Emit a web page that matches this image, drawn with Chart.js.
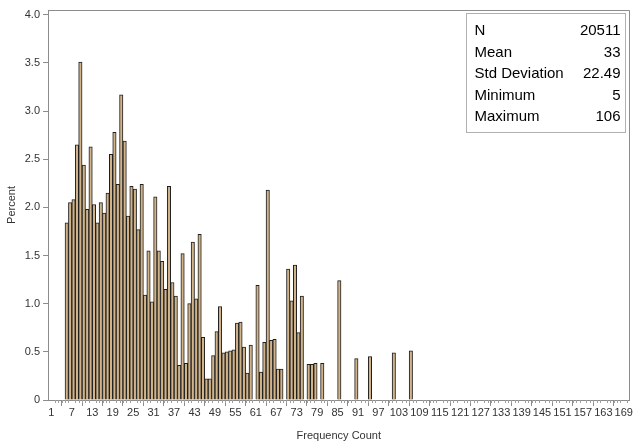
<!DOCTYPE html>
<html>
<head>
<meta charset="utf-8">
<script src="https://cdn.jsdelivr.net/npm/chart.js@4"></script>
<style>
  html, body { margin: 0; padding: 0; background: #fff; }
  #wrap { width: 633px; height: 443px; }
</style>
</head>
<body>
<div id="wrap"><canvas id="histo"></canvas></div>
<script>
// frequency count bins that have observations
const freqCount = [5, 6, 7, 8, 9, 10, 11, 12, 13, 14, 15, 16, 17, 18, 19, 20, 21, 22, 23, 24,
  25, 26, 27, 28, 29, 30, 31, 32, 33, 34, 35, 36, 37, 38, 39, 40, 41, 42, 43, 44,
  45, 46, 47, 48, 49, 50, 51, 52, 53, 54, 55, 56, 57, 58, 59, 61, 62, 63, 64, 65,
  66, 67, 68, 70, 71, 72, 73, 74, 76, 77, 78, 80, 85, 90, 94, 101, 106];
// percent of observations in each bin
const percent = [1.84, 2.05, 2.08, 2.65, 3.51, 2.44, 1.98, 2.63, 2.03, 1.84, 2.05, 1.94, 2.15, 2.55, 2.78, 2.24, 3.17, 2.69, 1.91, 2.22,
  2.19, 1.77, 2.24, 1.09, 1.55, 1.02, 2.11, 1.55, 1.44, 1.15, 2.22, 1.22, 1.08, 0.36, 1.52, 0.38, 1.00, 1.64, 1.05, 1.72,
  0.65, 0.22, 0.22, 0.46, 0.71, 0.97, 0.49, 0.50, 0.51, 0.52, 0.80, 0.81, 0.55, 0.28, 0.57, 1.19, 0.29, 0.60, 2.18, 0.62,
  0.63, 0.32, 0.32, 1.36, 1.03, 1.40, 0.70, 1.08, 0.37, 0.37, 0.38, 0.38, 1.24, 0.43, 0.45, 0.49, 0.51];

const xTickLabels = [1, 7, 13, 19, 25, 31, 37, 43, 49, 55, 61, 67, 73, 79, 85, 91, 97, 103, 109,
  115, 121, 127, 133, 139, 145, 151, 157, 163, 169];
const yTickValues = [0, 0.5, 1.0, 1.5, 2.0, 2.5, 3.0, 3.5, 4.0];

const statNames = ['N', 'Mean', 'Std Deviation', 'Minimum', 'Maximum'];
const statValues = ['20511', '33', '22.49', '5', '106'];

const FONT = '"Liberation Sans", Arial, sans-serif';
const AXIS_GRAY = '#8c8c8c';

// minor ticks, plot frame and the summary inset
const extras = {
  id: 'extras',
  afterDraw(chart) {
    const { ctx, chartArea: a, scales: { x } } = chart;
    ctx.save();
    // minor ticks on x
    ctx.strokeStyle = '#a0a0a0';
    ctx.lineWidth = 1;
    ctx.beginPath();
    for (let v = 1; v <= 170; v++) {
      if (xTickLabels.includes(v)) continue;
      const px = Math.round(x.getPixelForValue(v)) + 0.5;
      ctx.moveTo(px, a.bottom);
      ctx.lineTo(px, a.bottom + 3);
    }
    ctx.stroke();
    // frame top / right
    ctx.strokeStyle = AXIS_GRAY;
    ctx.beginPath();
    ctx.moveTo(Math.round(a.left) + 0.5, Math.round(a.top) + 0.5);
    ctx.lineTo(Math.round(a.right) - 0.5, Math.round(a.top) + 0.5);
    ctx.lineTo(Math.round(a.right) - 0.5, Math.round(a.bottom) + 0.5);
    ctx.stroke();

    // inset table
    const bw = 159, bh = 119;
    const bx = Math.round(a.right - 5 - bw) + 0.5;
    const by = Math.round(a.top + 3) + 0.5;
    ctx.fillStyle = '#fff';
    ctx.fillRect(bx, by, bw, bh);
    ctx.strokeStyle = '#b0b0b0';
    ctx.strokeRect(bx, by, bw, bh);
    ctx.font = '15px ' + FONT;
    ctx.fillStyle = '#000';
    ctx.textBaseline = 'middle';
    statNames.forEach((name, i) => {
      const ty = by + 17.5 + i * 21.5;
      ctx.textAlign = 'left';
      ctx.fillText(name, bx + 8, ty);
      ctx.textAlign = 'right';
      ctx.fillText(statValues[i], bx + bw - 5, ty);
    });
    ctx.restore();
  }
};

new Chart(document.getElementById('histo'), {
  type: 'bar',
  data: {
    datasets: [{
      // each bar covers the bin [count, count + 1)
      data: freqCount.map((c, i) => ({ x: c + 0.5, y: percent[i] })),
      backgroundColor: '#D0B389',
      borderColor: '#1e1e1e',
      borderWidth: 1,
      barPercentage: 1,
      categoryPercentage: 1
    }]
  },
  options: {
    responsive: true,
    maintainAspectRatio: false,
    animation: false,
    layout: { padding: { top: 10, right: 3, left: 0, bottom: 0 } },
    plugins: { legend: { display: false }, tooltip: { enabled: false } },
    scales: {
      x: {
        type: 'linear',
        min: 0,
        max: 170.7,
        offset: false,
        afterFit: (s) => { s.height = 43; },
        afterBuildTicks: (s) => {
          s.ticks = xTickLabels.map(v => ({ value: v }));
        },
        ticks: {
          autoSkip: false,
          maxRotation: 0,
          minRotation: 0,
          padding: 0,
          color: '#333',
          font: { family: FONT, size: 11 },
          callback: (v) => String(v)
        },
        grid: {
          drawOnChartArea: false,
          tickLength: 6,
          tickColor: AXIS_GRAY
        },
        border: { color: AXIS_GRAY },
        title: {
          display: true,
          text: 'Frequency Count',
          color: '#333',
          font: { family: FONT, size: 11 },
          padding: { top: 0, bottom: 0 }
        }
      },
      y: {
        min: 0,
        max: 4.05,
        afterFit: (s) => { s.width = 48; },
        afterBuildTicks: (s) => {
          s.ticks = yTickValues.map(v => ({ value: v }));
        },
        ticks: {
          color: '#333',
          padding: 3,
          font: { family: FONT, size: 11 },
          callback: (v) => v === 0 ? '0' : v.toFixed(1)
        },
        grid: { drawOnChartArea: false, tickLength: 5, tickColor: AXIS_GRAY },
        border: { color: AXIS_GRAY },
        title: {
          display: true,
          text: 'Percent',
          color: '#333',
          font: { family: FONT, size: 11 },
          padding: { top: 5, bottom: 0 }
        }
      }
    }
  },
  plugins: [extras]
});
</script>
</body>
</html>
